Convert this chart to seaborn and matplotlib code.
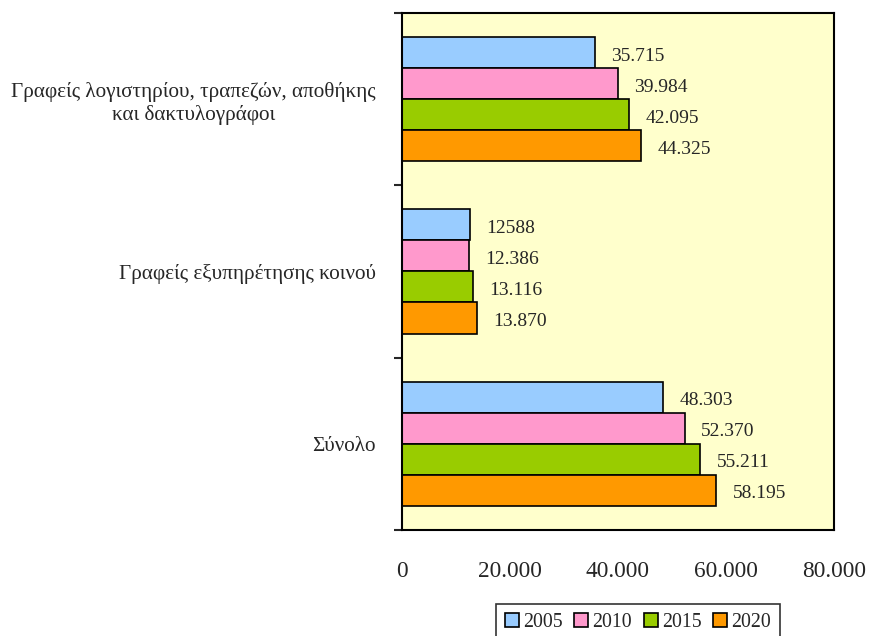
import pandas as pd
import matplotlib.pyplot as plt
import seaborn as sns
from matplotlib.ticker import FixedLocator, FuncFormatter

# δεδομένα
categories = ['Γραφείς λογιστηρίου, τραπεζών, αποθήκης\nκαι δακτυλογράφοι',
              'Γραφείς εξυπηρέτησης κοινού',
              'Σύνολο']
years = ['2005', '2010', '2015', '2020']
values_2005 = [35715, 12588, 48303]
values_2010 = [39984, 12386, 52370]
values_2015 = [42095, 13116, 55211]
values_2020 = [44325, 13870, 58195]
value_labels = [['35.715', '12588', '48.303'],
                ['39.984', '12.386', '52.370'],
                ['42.095', '13.116', '55.211'],
                ['44.325', '13.870', '58.195']]
x_ticks = [0, 20000, 40000, 60000, 80000]
colors = ['#99CCFF', '#FF99CC', '#99CC00', '#FF9900']

series = [values_2005, values_2010, values_2015, values_2020]
rows = []
for year, vals in zip(years, series):
    for cat, v in zip(categories, vals):
        rows.append({'category': cat, 'year': year, 'value': v})
df = pd.DataFrame(rows)

sns.set_style('white')
plt.rcParams['font.family'] = ['Liberation Serif', 'DejaVu Serif']

fig = plt.figure(figsize=(8.72, 6.36), dpi=100)
ax = fig.add_axes([0.461, 0.1667, 0.495, 0.8129])
ax.set_facecolor('#FFFFCC')

sns.barplot(data=df, y='category', x='value', hue='year', order=categories,
            hue_order=years, palette=colors, orient='h', width=0.72,
            edgecolor='black', linewidth=1.2, saturation=1, ax=ax)

# ετικέτες τιμών
for container, labels in zip(ax.containers, value_labels):
    for bar, txt in zip(container, labels):
        ax.annotate(txt, (bar.get_width(), bar.get_y() + bar.get_height() / 2),
                    xytext=(12, -2.5), textcoords='offset points',
                    ha='left', va='center', fontsize=14)

ax.set_xlim(0, 80000)
ax.set_ylim(2.5, -0.5)
ax.xaxis.set_major_locator(FixedLocator(x_ticks))
ax.xaxis.set_major_formatter(FuncFormatter(lambda v, p: f'{int(v):,}'.replace(',', '.')))
ax.tick_params(axis='x', length=0, pad=22, labelsize=16.8)

ax.yaxis.set_minor_locator(FixedLocator([-0.5, 0.5, 1.5, 2.5]))
ax.tick_params(axis='y', which='major', length=0, pad=19, labelsize=15.2)
ax.tick_params(axis='y', which='minor', length=6, width=1.5, direction='out', left=True)
for lbl in ax.get_yticklabels():
    lbl.set_multialignment('center')

ax.set_xlabel('')
ax.set_ylabel('')
for s in ax.spines.values():
    s.set_color('black')
    s.set_linewidth(1.5)

ax.legend_.remove()
handles = [plt.Rectangle((0, 0), 1, 1, facecolor=c, edgecolor='black', linewidth=1.2) for c in colors]
leg = fig.legend(handles, years, loc='upper center', bbox_to_anchor=(638 / 872, 1 - 604 / 636),
                 ncol=4, frameon=True, fontsize=14.3, handlelength=0.7, handleheight=0.7,
                 handletextpad=0.2, columnspacing=0.6, fancybox=False, borderpad=0.45,
                 borderaxespad=0)
leg.get_frame().set_edgecolor('black')
leg.get_frame().set_linewidth(1.2)

plt.savefig('out.png', dpi=100)
